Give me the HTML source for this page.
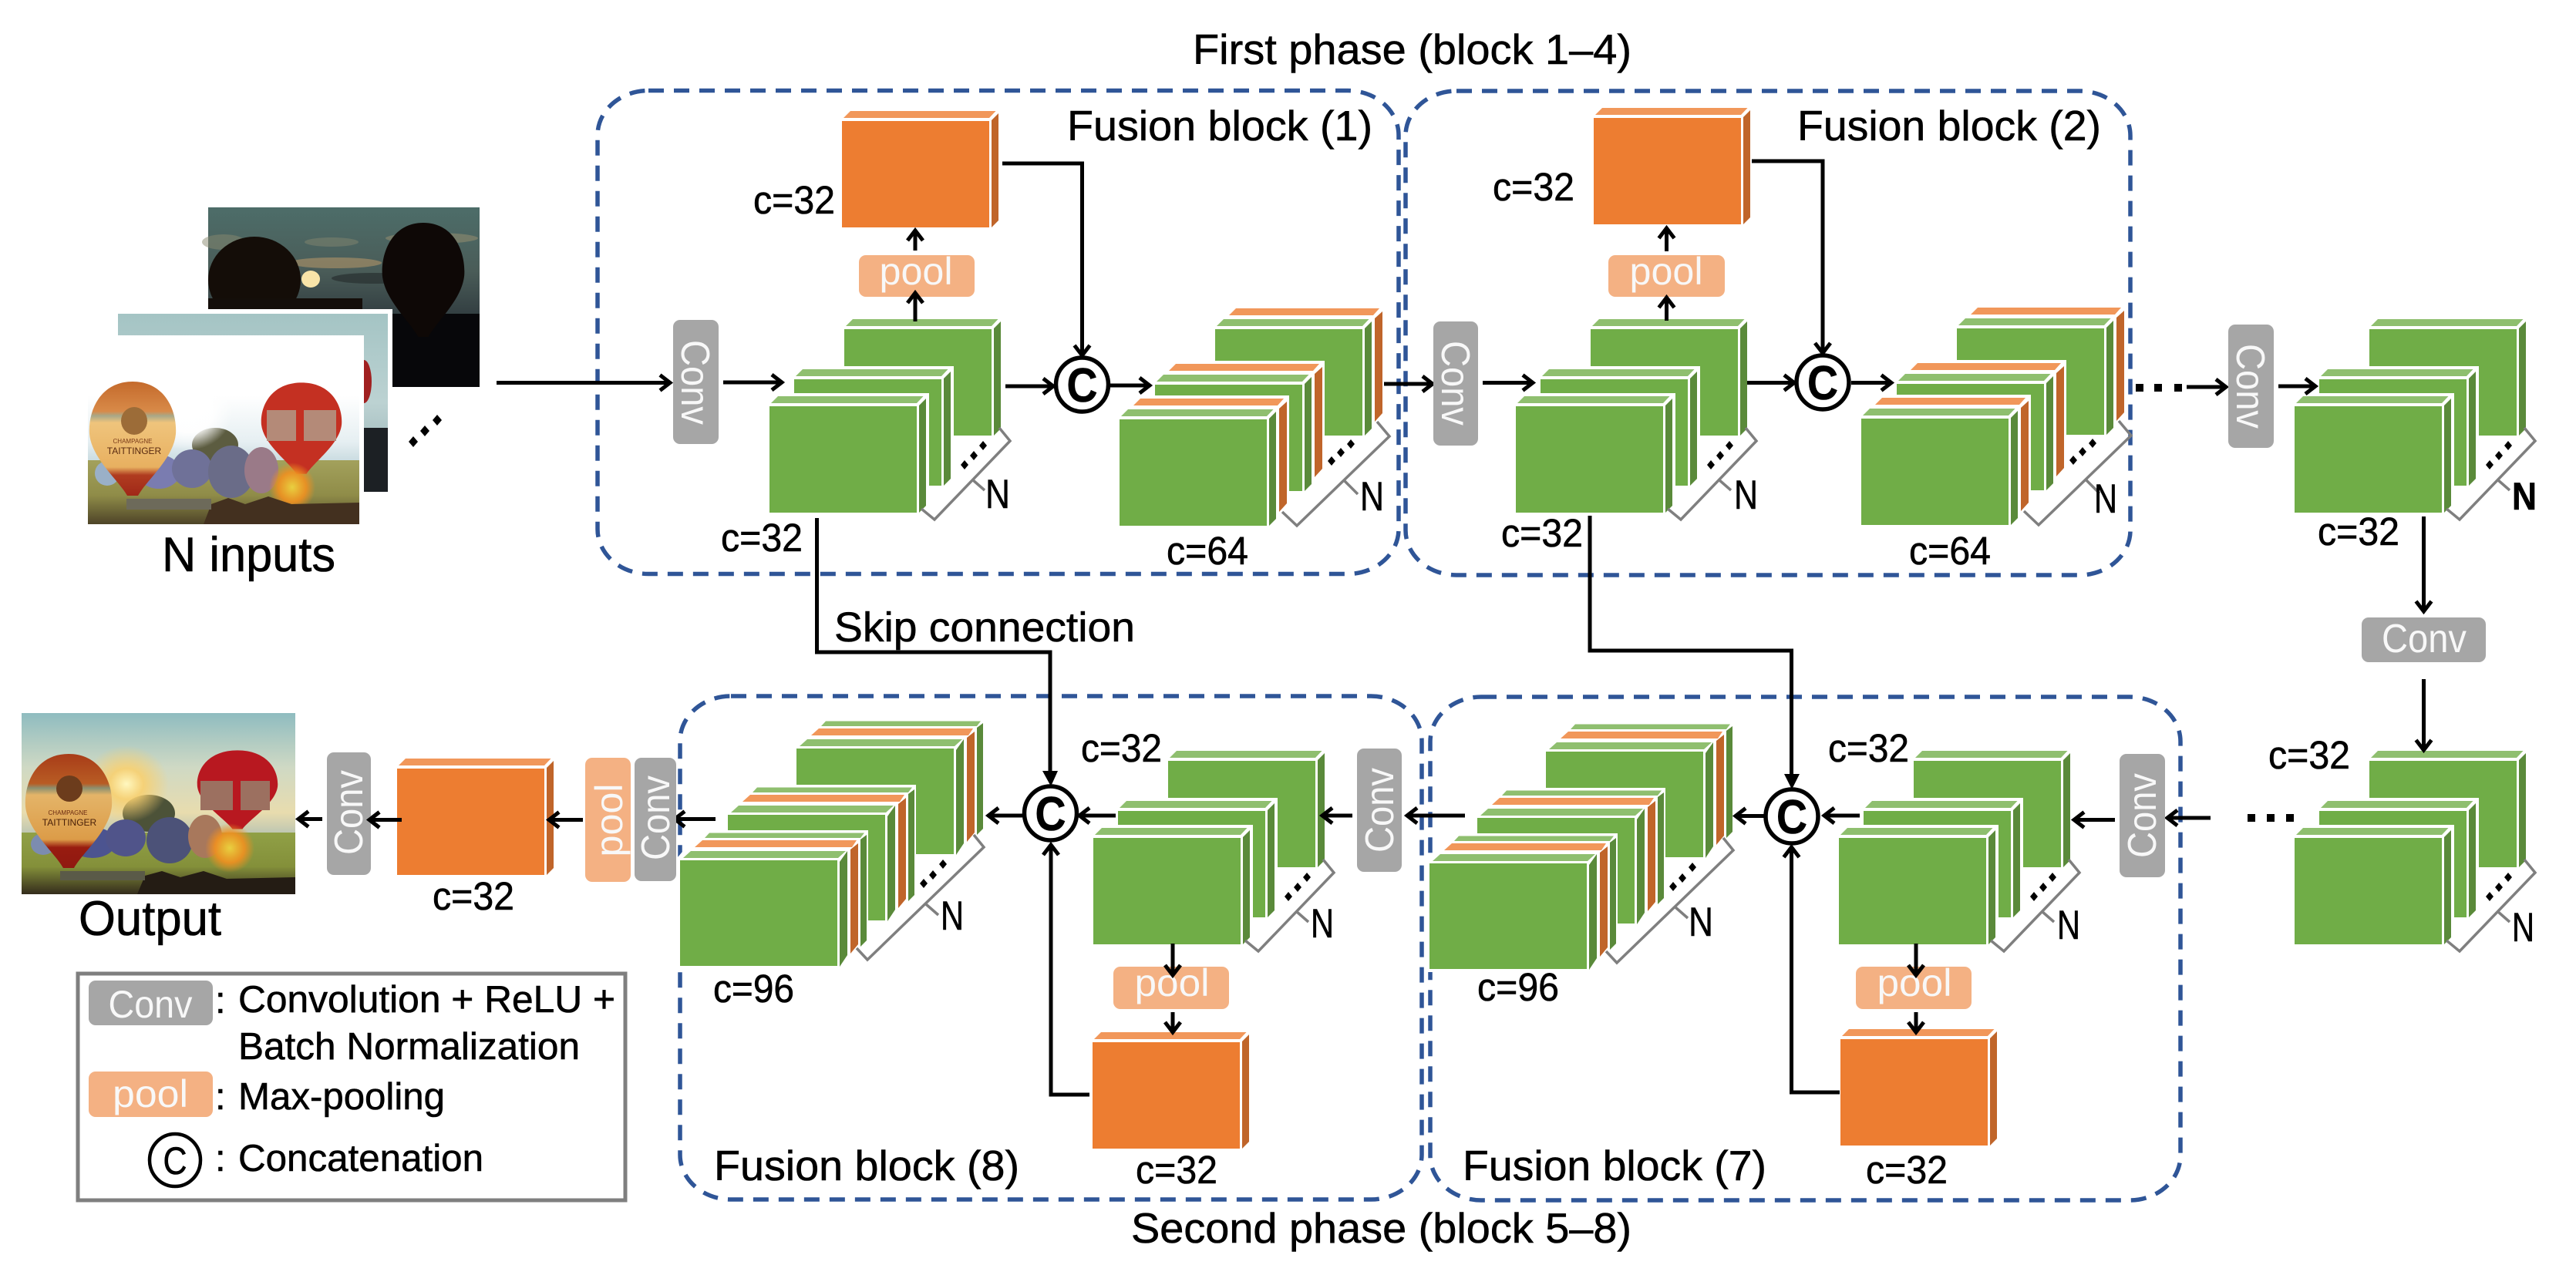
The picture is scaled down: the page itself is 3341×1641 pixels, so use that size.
<!DOCTYPE html>
<html><head><meta charset="utf-8"><title>Fusion network diagram</title>
<style>
html,body{margin:0;padding:0;background:#fff}
svg{display:block}
text{font-family:"Liberation Sans",sans-serif;fill:#000;stroke:#000;stroke-width:.6}
.w{fill:#f8f8f8;stroke:none}
.db{fill:none;stroke:#2f5597;stroke-width:5.5;stroke-dasharray:20 13}
.l{fill:none;stroke:#000;stroke-width:5}
.a{fill:none;stroke:#000;stroke-width:5;marker-end:url(#m)}
.cv{fill:#a6a6a6}.pl{fill:#f4b183}
.c{fill:#fff;stroke:#000;stroke-width:5.5}
.br{fill:none;stroke:#7f7f7f;stroke-width:3.5}
</style></head><body>
<svg xmlns="http://www.w3.org/2000/svg" width="3341" height="1641" viewBox="0 0 3341 1641">
<defs>
<marker id="m" markerUnits="userSpaceOnUse" markerWidth="40" markerHeight="40" refX="20" refY="20" orient="auto" viewBox="0 0 40 40">
<path d="M6,10 L19,20 L6,30" fill="none" stroke="#000" stroke-width="5"/>
</marker>
<linearGradient id="skyB" x1="0" y1="0" x2="0" y2="1"><stop offset="0" stop-color="#fff"/><stop offset=".3" stop-color="#fff"/><stop offset=".55" stop-color="#e6eff2"/><stop offset=".72" stop-color="#b9d0d6"/></linearGradient>
<linearGradient id="gndB" x1="0" y1="0" x2="0" y2="1"><stop offset="0" stop-color="#a3a15c"/><stop offset=".55" stop-color="#8f8c48"/><stop offset="1" stop-color="#4e4428"/></linearGradient>
<linearGradient id="skyO" x1="0" y1="0" x2="0" y2="1"><stop offset="0" stop-color="#8fbcc0"/><stop offset=".3" stop-color="#cfd9c4"/><stop offset=".55" stop-color="#e8dcae"/><stop offset=".72" stop-color="#a9bcb4"/></linearGradient>
<linearGradient id="gndO" x1="0" y1="0" x2="0" y2="1"><stop offset="0" stop-color="#90a046"/><stop offset=".55" stop-color="#84903a"/><stop offset="1" stop-color="#342c1c"/></linearGradient>
<linearGradient id="skyA" x1="0" y1="0" x2="0" y2="1"><stop offset="0" stop-color="#4d6d69"/><stop offset=".6" stop-color="#4a5c58"/><stop offset="1" stop-color="#333f42"/></linearGradient>
<linearGradient id="skyM" x1="0" y1="0" x2="0" y2="1"><stop offset="0" stop-color="#a4c4c4"/><stop offset=".5" stop-color="#bcd2d2"/><stop offset="1" stop-color="#8ea8ac"/></linearGradient>
<linearGradient id="balL" x1="0" y1="0" x2="0" y2="1"><stop offset="0" stop-color="#c46a2c"/><stop offset=".26" stop-color="#d88a48"/><stop offset=".3" stop-color="#a8a888"/><stop offset=".36" stop-color="#efc47c"/><stop offset=".75" stop-color="#e8b060"/><stop offset=".82" stop-color="#b03c20"/><stop offset="1" stop-color="#a02818"/></linearGradient>
<linearGradient id="balLo" x1="0" y1="0" x2="0" y2="1"><stop offset="0" stop-color="#a83c18"/><stop offset=".26" stop-color="#b85c24"/><stop offset=".3" stop-color="#8c9070"/><stop offset=".36" stop-color="#e4b468"/><stop offset=".75" stop-color="#dc9c48"/><stop offset=".82" stop-color="#981c10"/><stop offset="1" stop-color="#901810"/></linearGradient>
<radialGradient id="sun"><stop offset="0" stop-color="#fff"/><stop offset=".55" stop-color="#fff" stop-opacity=".95"/><stop offset="1" stop-color="#fff" stop-opacity="0"/></radialGradient>
<radialGradient id="sunO"><stop offset="0" stop-color="#fff8c0"/><stop offset=".4" stop-color="#f8d070" stop-opacity=".9"/><stop offset="1" stop-color="#f8d070" stop-opacity="0"/></radialGradient>
<radialGradient id="fl"><stop offset="0" stop-color="#e8d040"/><stop offset=".6" stop-color="#f09020" stop-opacity=".9"/><stop offset="1" stop-color="#f09020" stop-opacity="0"/></radialGradient>
<g id="gc">
<polygon fill="#fff" points="-3,-4 8,-17 207,-17 207,126 194,141 -3,141"/>
<polygon fill="#8fbf6f" points="2,-4 11,-13 199.5,-13 191,-4"/>
<polygon fill="#5a8a3a" points="194,-1 203,-10 203,129 194,138"/>
<rect width="191" height="138" fill="#70ad47"/>
</g>
<g id="oc">
<polygon fill="#fff" points="-3,-4 8,-17 207,-17 207,126 194,141 -3,141"/>
<polygon fill="#f1975a" points="2,-4 11,-13 199.5,-13 191,-4"/>
<polygon fill="#c0652a" points="194,-1 203,-10 203,129 194,138"/>
<rect width="191" height="138" fill="#ed7d31"/>
</g>
<g id="gc2">
<polygon fill="#fff" points="-3,-4 8,-17 14,-17 25,-31 220,-31 220,106 207,124 207,138 194,141 -3,141"/>
<polygon fill="#f1975a" points="18,-18 27,-27 213,-27 205,-18"/>
<polygon fill="#c0652a" points="207,-14 217,-23 217,109 207,120"/>
<polygon fill="#8fbf6f" points="2,-4 11,-13 199.5,-13 191,-4"/>
<polygon fill="#5a8a3a" points="194,-1 203,-10 203,129 194,138"/>
<rect width="191" height="138" fill="#70ad47"/>
</g>
<g id="gc3">
<polygon fill="#fff" points="-3,-4 8,-17 14,-17 25,-29 28,-39 244,-39 244,100 231,118 218,128 206,141 -3,141"/>
<polygon fill="#8fbf6f" points="32,-29 38,-35.5 239,-35.5 234,-29"/>
<polygon fill="#5a8a3a" points="234,-27 242,-33 242,104 234,112"/>
<polygon fill="#f1975a" points="19,-17 29,-26 229,-26 223,-17"/>
<polygon fill="#c0652a" points="221,-14 231,-22 231,109 221,121"/>
<polygon fill="#8fbf6f" points="4,-3 14,-12 215,-12 205,-3"/>
<polygon fill="#5a8a3a" points="207,2 217,-12 217,123 207,138"/>
<rect width="204" height="137" fill="#70ad47"/>
</g>
<g id="s1">
<use href="#gc" x="96" y="-100"/><use href="#gc" x="31" y="-35"/><use href="#gc" x="-1" y="0"/>
<polyline class="br" points="297,28 311,45 213,147 196,133"/><polyline class="br" points="262,95 278,109"/>
<path d="M276,45l5,6l-5,6l-5,-6zM264,58l5,6l-5,6l-5,-6zM252,70l5,6l-5,6l-5,-6z"/>
</g>
<g id="s2">
<use href="#gc2" x="124" y="-117"/><use href="#gc2" x="46" y="-45"/><use href="#gc2" x="0" y="0"/>
<polyline class="br" points="334,3 350,22 230,138 211,120"/><polyline class="br" points="292,80 309,97"/>
<path d="M300,26l5,6l-5,6l-5,-6zM287,37l5,6l-5,6l-5,-6zM275,48l5,6l-5,6l-5,-6z"/>
</g>
<g id="s3">
<use href="#gc3" x="151" y="-145"/><use href="#gc3" x="62" y="-59"/><use href="#gc3" x="0" y="0"/>
<polyline class="br" points="381,-33 394,-17 243,129 229,114"/><polyline class="br" points="319,57 335,71"/>
<path d="M341,-1l5,6l-5,6l-5,-6zM328,13l5,6l-5,6l-5,-6zM316,24l5,6l-5,6l-5,-6z"/>
</g>
<path id="tear" d="M0,-72 C42,-72 58,-34 56,-4 C53,28 18,56 7,76 L-7,76 C-18,56 -53,28 -56,-4 C-58,-34 -42,-72 0,-72Z"/>
</defs>

<rect width="3341" height="1641" fill="#fff"/>

<!-- dark input -->
<g transform="translate(270,269)">
<rect width="352" height="233" fill="#07070a"/>
<rect width="352" height="138" fill="url(#skyA)"/>
<ellipse cx="165" cy="72" rx="60" ry="7" fill="#9c8a66" opacity=".75"/>
<ellipse cx="215" cy="92" rx="55" ry="7" fill="#2c3434" opacity=".8"/>
<ellipse cx="290" cy="40" rx="60" ry="7" fill="#8f8a6e" opacity=".6"/>
<ellipse cx="20" cy="45" rx="28" ry="10" fill="#8a8a70" opacity=".5"/>
<ellipse cx="160" cy="45" rx="35" ry="6" fill="#8a8a70" opacity=".45"/>
<ellipse cx="60" cy="94" rx="60" ry="56" fill="#140d08"/>
<rect y="118" width="200" height="20" fill="#140e0a"/>
<use href="#tear" transform="translate(279,92) scale(.95,1)" fill="#0e0806"/>
<ellipse cx="133" cy="93" rx="12" ry="11" fill="#f8e4a8"/>
</g>
<rect x="145" y="401" width="364" height="240" fill="#fff"/>
<!-- mid input -->
<rect x="153" y="407" width="350" height="231" fill="url(#skyM)"/>
<rect x="472" y="555" width="31" height="83" fill="#1c2024"/>
<ellipse cx="472" cy="495" rx="10" ry="28" fill="#a02020"/>
<rect x="106" y="435" width="366" height="250" fill="#fff"/>
<!-- bright input -->
<g transform="translate(114,442)">
<rect width="352" height="238" fill="url(#skyB)"/>
<rect y="155" width="352" height="83" fill="url(#gndB)"/>
<ellipse cx="165" cy="135" rx="30" ry="22" fill="#5c5c40"/>
<ellipse cx="130" cy="90" rx="58" ry="52" fill="url(#sun)"/>
<ellipse cx="25" cy="172" rx="16" ry="16" fill="#9ab0c8"/>
<ellipse cx="92" cy="170" rx="28" ry="22" fill="#7a7cb0"/>
<ellipse cx="135" cy="166" rx="26" ry="25" fill="#6f7198"/>
<ellipse cx="186" cy="170" rx="30" ry="34" fill="#6a6c88"/>
<ellipse cx="225" cy="168" rx="22" ry="30" fill="#9a7a88"/>
<use href="#tear" transform="translate(58,125)" fill="url(#balL)"/>
<ellipse cx="60" cy="104" rx="17" ry="18" fill="#9c6c38"/>
<text x="58" y="133" font-size="8" text-anchor="middle" style="fill:#7a3a18;stroke:none">CHAMPAGNE</text>
<text x="60" y="147" font-size="12" text-anchor="middle" style="fill:#5a2a10;stroke:none">TAITTINGER</text>
<use href="#tear" transform="translate(277,112) scale(.93,.8)" fill="#c43022"/>
<rect x="232" y="90" width="90" height="40" fill="#b48a78"/>
<rect x="270" y="76" width="10" height="62" fill="#c43022"/>
<ellipse cx="265" cy="190" rx="30" ry="32" fill="url(#fl)"/>
<path d="M150,238 l10,-26 l22,-8 l22,8 l30,-10 l30,10 l88,-2 v28z" fill="#43301f"/>
<rect x="50" y="205" width="110" height="14" fill="#6d6a5a"/>
</g>

<!-- output image -->
<g transform="translate(28,925)">
<rect width="355" height="235" fill="url(#skyO)"/>
<rect y="155" width="355" height="80" fill="url(#gndO)"/>
<ellipse cx="165" cy="130" rx="34" ry="24" fill="#4c5238"/>
<ellipse cx="136" cy="92" rx="55" ry="50" fill="url(#sunO)"/>
<ellipse cx="28" cy="170" rx="16" ry="14" fill="#7c8cb0"/>
<ellipse cx="92" cy="168" rx="30" ry="20" fill="#4c5490"/>
<ellipse cx="135" cy="162" rx="26" ry="24" fill="#50548a"/>
<ellipse cx="192" cy="165" rx="30" ry="30" fill="#4c5278"/>
<ellipse cx="238" cy="160" rx="22" ry="28" fill="#a8785c"/>
<use href="#tear" transform="translate(61,125)" fill="url(#balLo)"/>
<ellipse cx="62" cy="98" rx="17" ry="17" fill="#6c3c1c"/>
<text x="60" y="132" font-size="8" text-anchor="middle" style="fill:#6a2a10;stroke:none">CHAMPAGNE</text>
<text x="62" y="146" font-size="12" text-anchor="middle" style="fill:#4a2008;stroke:none">TAITTINGER</text>
<use href="#tear" transform="translate(280,98) scale(.93,.69)" fill="#b81820"/>
<rect x="232" y="88" width="90" height="38" fill="#9c7060"/>
<rect x="274" y="74" width="10" height="52" fill="#b81820"/>
<ellipse cx="270" cy="175" rx="32" ry="32" fill="url(#fl)"/>
<path d="M150,235 l10,-24 l22,-6 l24,8 l30,-8 l30,10 l89,-2 v22z" fill="#241c14"/>
<rect x="50" y="205" width="110" height="12" fill="#5a5a48"/>
</g>

<!-- dashed boxes -->
<rect class="db" x="775" y="117.5" width="1039" height="627" rx="66" ry="58"/>
<rect class="db" x="1823" y="118" width="940" height="628" rx="66" ry="58"/>
<rect class="db" x="882" y="903" width="962" height="653" rx="66" ry="58"/>
<rect class="db" x="1855" y="904" width="973" height="653" rx="66" ry="58"/>

<!-- titles -->
<text x="1547" y="83" font-size="55" textLength="569" lengthAdjust="spacingAndGlyphs">First phase (block 1–4)</text>
<text x="1467" y="1612" font-size="55" textLength="649" lengthAdjust="spacingAndGlyphs">Second phase (block 5–8)</text>
<text x="1384" y="182" font-size="55" textLength="396" lengthAdjust="spacingAndGlyphs">Fusion block (1)</text>
<text x="2331" y="182" font-size="55" textLength="394" lengthAdjust="spacingAndGlyphs">Fusion block (2)</text>
<text x="926" y="1531" font-size="55" textLength="396" lengthAdjust="spacingAndGlyphs">Fusion block (8)</text>
<text x="1897" y="1531" font-size="55" textLength="394" lengthAdjust="spacingAndGlyphs">Fusion block (7)</text>
<text x="1082" y="832" font-size="54" textLength="390" lengthAdjust="spacingAndGlyphs">Skip connection</text>
<text x="210" y="741" font-size="63" textLength="225" lengthAdjust="spacingAndGlyphs">N inputs</text>
<text x="102" y="1213" font-size="63" textLength="185" lengthAdjust="spacingAndGlyphs">Output</text>

<!-- input dots -->
<path d="M567,538l6,7l-6,7l-6,-7zM551,552l6,7l-6,7l-6,-7zM536,566l6,7l-6,7l-6,-7z"/>

<!-- orange blocks -->
<use href="#oc" x="1092" y="157"/>
<use href="#oc" x="2067" y="153"/>
<use href="#oc" x="1417" y="1352"/>
<use href="#oc" x="2387" y="1348"/>
<use href="#oc" x="515" y="997"/>

<!-- stacks -->
<use href="#s1" x="999" y="527"/>
<use href="#s1" x="1967" y="527"/>
<use href="#s1" x="2977" y="527"/>
<use href="#s1" x="1419" y="1087"/>
<use href="#s1" x="2386" y="1087"/>
<use href="#s1" x="2977" y="1087"/>
<use href="#s2" x="1452" y="544"/>
<use href="#s2" x="2414" y="543"/>
<use href="#s3" x="882" y="1116"/>
<use href="#s3" x="1854" y="1120"/>

<!-- N labels -->
<text x="1278" y="659" font-size="53" textLength="32" lengthAdjust="spacingAndGlyphs">N</text>
<text x="2249" y="660" font-size="53" textLength="31" lengthAdjust="spacingAndGlyphs">N</text>
<text x="3258" y="661" font-size="50" font-weight="700" textLength="32" lengthAdjust="spacingAndGlyphs">N</text>
<text x="1764" y="662" font-size="53" textLength="31" lengthAdjust="spacingAndGlyphs">N</text>
<text x="2716" y="665" font-size="53" textLength="30" lengthAdjust="spacingAndGlyphs">N</text>
<text x="1700" y="1216" font-size="53" textLength="30" lengthAdjust="spacingAndGlyphs">N</text>
<text x="2668" y="1218" font-size="53" textLength="30" lengthAdjust="spacingAndGlyphs">N</text>
<text x="3258" y="1221" font-size="53" textLength="29" lengthAdjust="spacingAndGlyphs">N</text>
<text x="1220" y="1206" font-size="53" textLength="30" lengthAdjust="spacingAndGlyphs">N</text>
<text x="2190" y="1214" font-size="53" textLength="32" lengthAdjust="spacingAndGlyphs">N</text>

<!-- c labels -->
<g font-size="51">
<text x="977" y="277" textLength="106" lengthAdjust="spacingAndGlyphs">c=32</text>
<text x="935" y="715" textLength="106" lengthAdjust="spacingAndGlyphs">c=32</text>
<text x="1513" y="732" textLength="106" lengthAdjust="spacingAndGlyphs">c=64</text>
<text x="1936" y="260" textLength="106" lengthAdjust="spacingAndGlyphs">c=32</text>
<text x="1947" y="709" textLength="106" lengthAdjust="spacingAndGlyphs">c=32</text>
<text x="2476" y="732" textLength="106" lengthAdjust="spacingAndGlyphs">c=64</text>
<text x="3006" y="707" textLength="106" lengthAdjust="spacingAndGlyphs">c=32</text>
<text x="2942" y="997" textLength="106" lengthAdjust="spacingAndGlyphs">c=32</text>
<text x="2371" y="988" textLength="105" lengthAdjust="spacingAndGlyphs">c=32</text>
<text x="1402" y="988" textLength="105" lengthAdjust="spacingAndGlyphs">c=32</text>
<text x="1473" y="1535" textLength="106" lengthAdjust="spacingAndGlyphs">c=32</text>
<text x="2420" y="1535" textLength="106" lengthAdjust="spacingAndGlyphs">c=32</text>
<text x="925" y="1300" textLength="105" lengthAdjust="spacingAndGlyphs">c=96</text>
<text x="1916" y="1298" textLength="106" lengthAdjust="spacingAndGlyphs">c=96</text>
<text x="561" y="1180" textLength="106" lengthAdjust="spacingAndGlyphs">c=32</text>
</g>

<!-- connectors -->
<polyline class="l" points="1059.5,672 1059.5,846 1362,846 1362,1000"/>
<polyline class="l" points="2062,669 2062,844 2323.5,844 2323.5,1005"/>
<polygon points="1352,1000 1372,1000 1363,1020"/>
<polygon points="2314,1004 2334,1004 2324,1024"/>
<polyline class="l" points="1300,212 1403.5,212 1403.5,440"/>
<polyline class="l" points="2272,209 2364,209 2364,440"/>
<path class="a" d="M1403.5,430V462"/>
<path class="a" d="M2364,430V459"/>
<polyline class="a" points="1413,1420 1363,1420 1363,1095"/>
<polyline class="a" points="2386,1417 2323.5,1417 2323.5,1098"/>

<path class="a" d="M644,496.5H870"/>
<path class="a" d="M938,496H1015"/>
<path class="a" d="M1304,501H1367"/>
<path class="a" d="M1440,500H1492"/>
<path class="a" d="M1795,498H1859"/>
<path class="a" d="M1923,496.5H1989"/>
<path class="a" d="M2266,496.5H2328"/>
<path class="a" d="M2401,496.5H2454"/>
<path class="a" d="M2836,502H2888"/>
<path class="a" d="M2955,501H3004"/>
<path class="a" d="M3143.5,670V794"/>
<path class="a" d="M3143.5,881V974"/>
<path class="a" d="M2867,1061H2810"/>
<path class="a" d="M2743,1063.5H2689"/>
<path class="a" d="M2412,1058H2365"/>
<path class="a" d="M2288,1058.5H2250"/>
<path class="a" d="M1900,1058H1824"/>
<path class="a" d="M1754,1058H1714"/>
<path class="a" d="M1447,1058H1399"/>
<path class="a" d="M1326,1058H1281"/>
<path class="a" d="M928,1062.5H874"/>
<path class="a" d="M756,1063.5H711"/>
<path class="a" d="M521,1063.5H478"/>
<path class="a" d="M418,1062.5H386"/>

<!-- dotted -->
<path d="M2770,498h10v10h-10zM2794,498h10v10h-10zM2820,498h10v10h-10zM2915,1056h10v10h-10zM2940,1056h10v10h-10zM2965,1056h10v10h-10z"/>

<!-- pool boxes -->
<rect class="pl" x="1114" y="331" width="150" height="54" rx="9"/>
<text class="w" x="1188" y="369" font-size="50" text-anchor="middle" textLength="95" lengthAdjust="spacingAndGlyphs">pool</text>
<rect class="pl" x="2086" y="331" width="151" height="54" rx="9"/>
<text class="w" x="2161" y="369" font-size="50" text-anchor="middle" textLength="95" lengthAdjust="spacingAndGlyphs">pool</text>
<rect class="pl" x="1444" y="1254" width="150" height="55" rx="9"/>
<text class="w" x="1520" y="1292" font-size="50" text-anchor="middle" textLength="97" lengthAdjust="spacingAndGlyphs">pool</text>
<rect class="pl" x="2407" y="1254" width="150" height="55" rx="9"/>
<text class="w" x="2483" y="1292" font-size="50" text-anchor="middle" textLength="97" lengthAdjust="spacingAndGlyphs">pool</text>
<rect class="pl" x="759" y="983" width="59" height="161" rx="9"/>
<text class="w" transform="translate(807,1064) rotate(-90)" font-size="50" text-anchor="middle" textLength="95" lengthAdjust="spacingAndGlyphs">pool</text>

<!-- arrows through pool boxes (on top) -->
<path class="a" d="M1187,417V379"/>
<path class="a" d="M1187,325V298"/>
<path class="a" d="M2161.5,416V385"/>
<path class="a" d="M2161.5,326V295"/>
<path class="a" d="M1521,1224V1266"/>
<path class="a" d="M1521,1313V1340"/>
<path class="a" d="M2485,1224V1266"/>
<path class="a" d="M2485,1313V1340"/>

<!-- conv boxes -->
<rect class="cv" x="873" y="415" width="59" height="161" rx="9"/>
<text class="w" transform="translate(902,496) rotate(90)" y="18" font-size="52" text-anchor="middle" textLength="110" lengthAdjust="spacingAndGlyphs">Conv</text>
<rect class="cv" x="1859" y="417" width="58" height="161" rx="9"/>
<text class="w" transform="translate(1888,497) rotate(90)" y="18" font-size="52" text-anchor="middle" textLength="110" lengthAdjust="spacingAndGlyphs">Conv</text>
<rect class="cv" x="2890" y="421" width="59" height="160" rx="9"/>
<text class="w" transform="translate(2919,501) rotate(90)" y="18" font-size="52" text-anchor="middle" textLength="110" lengthAdjust="spacingAndGlyphs">Conv</text>
<rect class="cv" x="3063" y="801" width="161" height="58" rx="9"/>
<text class="w" x="3144" y="846" font-size="52" text-anchor="middle" textLength="110" lengthAdjust="spacingAndGlyphs">Conv</text>
<rect class="cv" x="2749" y="978" width="59" height="160" rx="9"/>
<text class="w" transform="translate(2778,1058) rotate(-90)" y="18" font-size="52" text-anchor="middle" textLength="110" lengthAdjust="spacingAndGlyphs">Conv</text>
<rect class="cv" x="1760" y="971" width="58" height="160" rx="9"/>
<text class="w" transform="translate(1789,1051) rotate(-90)" y="18" font-size="52" text-anchor="middle" textLength="110" lengthAdjust="spacingAndGlyphs">Conv</text>
<rect class="cv" x="823" y="983" width="54" height="160" rx="9"/>
<text class="w" transform="translate(850,1061) rotate(-90)" y="18" font-size="52" text-anchor="middle" textLength="110" lengthAdjust="spacingAndGlyphs">Conv</text>
<rect class="cv" x="424" y="976" width="57" height="159" rx="9"/>
<text class="w" transform="translate(452,1054) rotate(-90)" y="18" font-size="52" text-anchor="middle" textLength="110" lengthAdjust="spacingAndGlyphs">Conv</text>
<path class="a" d="M521,1063.5H478"/>

<!-- concat circles -->
<g font-weight="700" font-size="62">
<ellipse class="c" cx="1403.5" cy="499" rx="34" ry="35"/>
<text x="1403.5" y="521" text-anchor="middle" textLength="40" lengthAdjust="spacingAndGlyphs">C</text>
<ellipse class="c" cx="2364" cy="496" rx="34" ry="35"/>
<text x="2364" y="518" text-anchor="middle" textLength="40" lengthAdjust="spacingAndGlyphs">C</text>
<ellipse class="c" cx="1362.5" cy="1055" rx="34" ry="35"/>
<text x="1362.5" y="1077" text-anchor="middle" textLength="40" lengthAdjust="spacingAndGlyphs">C</text>
<ellipse class="c" cx="2324" cy="1059" rx="34" ry="35"/>
<text x="2324" y="1081" text-anchor="middle" textLength="40" lengthAdjust="spacingAndGlyphs">C</text>
</g>

<!-- legend -->
<rect x="101" y="1263" width="710" height="294" fill="none" stroke="#7f7f7f" stroke-width="5"/>
<rect class="cv" x="115" y="1272" width="161" height="58" rx="9"/>
<text class="w" x="195" y="1320" font-size="50" text-anchor="middle" textLength="109" lengthAdjust="spacingAndGlyphs">Conv</text>
<rect class="pl" x="115" y="1390" width="161" height="59" rx="9"/>
<text class="w" x="195" y="1436" font-size="50" text-anchor="middle" textLength="98" lengthAdjust="spacingAndGlyphs">pool</text>
<ellipse cx="227" cy="1505" rx="33" ry="34" fill="#fff" stroke="#000" stroke-width="4.5"/>
<text x="227" y="1523" font-size="50" text-anchor="middle" textLength="31" lengthAdjust="spacingAndGlyphs">C</text>
<g font-size="49">
<text x="279" y="1314">:</text>
<text x="309" y="1313" textLength="489" lengthAdjust="spacingAndGlyphs">Convolution + ReLU +</text>
<text x="309" y="1374" textLength="443" lengthAdjust="spacingAndGlyphs">Batch Normalization</text>
<text x="279" y="1439">:</text>
<text x="309" y="1439" textLength="268" lengthAdjust="spacingAndGlyphs">Max-pooling</text>
<text x="279" y="1519">:</text>
<text x="309" y="1519" textLength="318" lengthAdjust="spacingAndGlyphs">Concatenation</text>
</g>
</svg>
</body></html>
